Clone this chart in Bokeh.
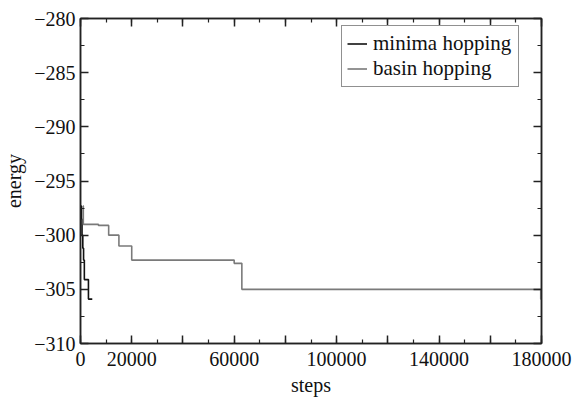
from bokeh.plotting import figure
from bokeh.models import Range1d, FixedTicker, LinearAxis, Legend, LegendItem
from bokeh.embed import file_html
from bokeh.resources import INLINE

# --- data ---
minima_steps = [300, 400, 600, 900, 1200, 1500, 3100, 4600]
minima_energy = [-297.3, -298.5, -300.0, -301.2, -302.3, -304.1, -305.9, -305.9]

basin_steps = [1000, 1100, 7000, 11000, 15000, 20000, 60000, 63000, 179700, 180000]
basin_energy = [-297.3, -299.0, -299.1, -300.0, -301.0, -302.3, -302.6, -305.0, -305.9, -305.9]

x_ticks = [0, 20000, 40000, 60000, 80000, 100000, 120000, 140000, 160000, 180000]
x_tick_labels = ["0", "20000", "", "60000", "", "100000", "", "140000", "", "180000"]
x_minor = [10000 * i for i in range(19)]
y_ticks = [-310, -305, -300, -295, -290, -285, -280]
y_tick_labels = ["\u2212310", "\u2212305", "\u2212300", "\u2212295", "\u2212290", "\u2212285", "\u2212280"]
y_minor = [-310 + 2.5 * i for i in range(13)]

FONT = "Liberation Serif"

p = figure(width=574, height=400, output_backend="svg", toolbar_location=None,
           x_range=Range1d(0, 180000), y_range=Range1d(-310, -280),
           min_border_left=77, min_border_right=33, min_border_top=18, min_border_bottom=57)
p.xgrid.visible = False
p.ygrid.visible = False
p.outline_line_color = "#222222"
p.outline_line_width = 1.5
p.background_fill_color = "white"
p.border_fill_color = "white"

r_min = p.step(minima_steps, minima_energy, mode="after", line_color="#111111", line_width=1.6)
r_bas = p.step(basin_steps, basin_energy, mode="after", line_color="#7a7a7a", line_width=1.6)


def style_axis(ax, ticks, minor, labels, show_labels):
    ax.ticker = FixedTicker(ticks=ticks, minor_ticks=minor)
    if show_labels:
        ax.major_label_overrides = {t: l for t, l in zip(ticks, labels)}
    else:
        ax.major_label_overrides = {t: "" for t in ticks}
    ax.major_tick_in = 8
    ax.major_tick_out = 0
    ax.minor_tick_in = 4
    ax.minor_tick_out = 0
    ax.axis_line_color = "#222222"
    ax.axis_line_width = 1.5
    ax.major_tick_line_color = "#222222"
    ax.major_tick_line_width = 1.5
    ax.minor_tick_line_color = "#222222"
    ax.minor_tick_line_width = 1.2
    ax.major_label_text_font = FONT
    ax.major_label_text_font_size = "20px"
    ax.major_label_text_color = "#111111"
    ax.major_label_standoff = 5
    ax.axis_label_text_font = FONT
    ax.axis_label_text_font_size = "20px"
    ax.axis_label_text_font_style = "normal"
    ax.axis_label_text_color = "#111111"


xa = p.xaxis[0]
ya = p.yaxis[0]
style_axis(xa, x_ticks, x_minor, x_tick_labels, True)
style_axis(ya, y_ticks, y_minor, y_tick_labels, True)
xa.major_label_standoff = 8
xa.axis_label = "steps"
xa.axis_label_standoff = 5
ya.axis_label = "energy"
ya.axis_label_standoff = 6

top = LinearAxis()
style_axis(top, x_ticks, x_minor, x_tick_labels, False)
top.major_label_text_font_size = "1px"
top.major_label_standoff = 0
p.add_layout(top, "above")
right = LinearAxis()
style_axis(right, y_ticks, y_minor, y_tick_labels, False)
right.major_label_text_font_size = "1px"
right.major_label_standoff = 0
p.add_layout(right, "right")

legend = Legend(items=[LegendItem(label="minima hopping", renderers=[r_min]),
                       LegendItem(label="basin hopping", renderers=[r_bas])],
                location=(261, 256))
legend.label_text_font = FONT
legend.label_text_font_size = "21px"
legend.label_text_color = "#111111"
legend.glyph_width = 20
legend.glyph_height = 21
legend.label_height = 21
legend.label_width = 140
legend.label_standoff = 6
legend.padding = 5
legend.spacing = 0
legend.margin = 0
legend.border_line_color = "#222222"
legend.border_line_width = 1.2
legend.background_fill_color = "white"
legend.background_fill_alpha = 1.0
p.add_layout(legend, "center")

open("out.html", "w").write(file_html(p, INLINE))
